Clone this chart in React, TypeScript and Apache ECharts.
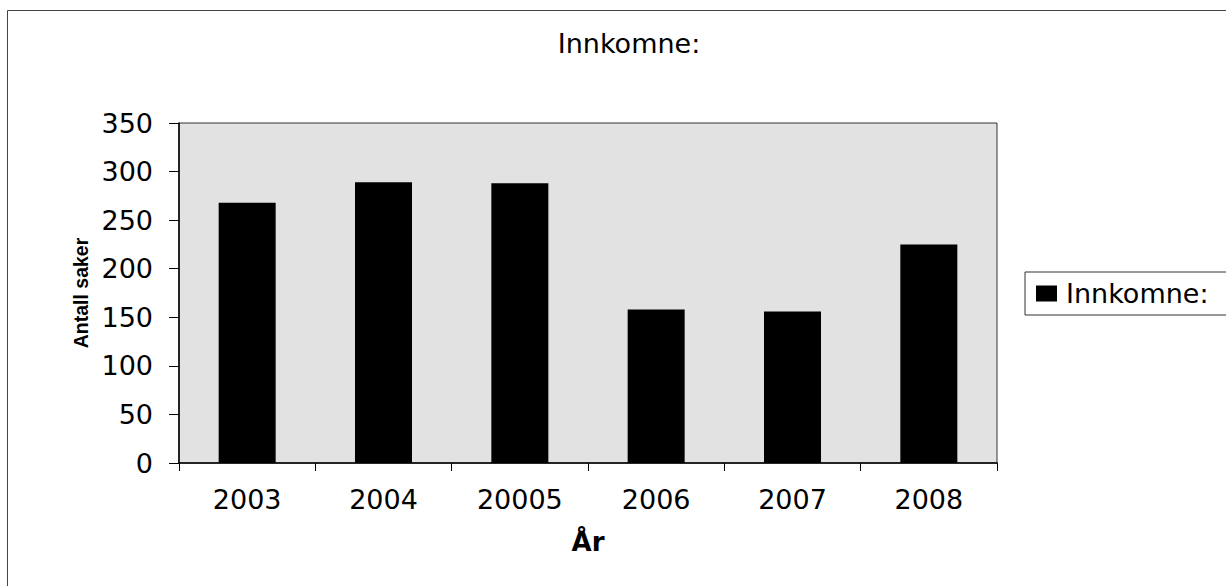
import React, { useEffect, useRef } from "react";
import * as echarts from "echarts";

const titleText = "Innkomne:";
const seriesName = "Innkomne:";
const years = ["2003", "2004", "20005", "2006", "2007", "2008"];
const values = [268, 289, 288, 158, 156, 225];
const yAxisTitle = "Antall saker";
const xAxisTitle = "År";
const yMin = 0;
const yMax = 350;
const yStep = 50;

export default function App() {
  const ref = useRef<HTMLDivElement>(null);
  useEffect(() => {
    if (!ref.current) return;
    const chart = echarts.init(ref.current, null, { renderer: "svg" });
    const font = "DejaVu Sans";
    chart.setOption({
      animation: false,
      backgroundColor: "#ffffff",
      title: {
        text: titleText,
        left: 624,
        textAlign: "center",
        top: 25,
        textStyle: { fontFamily: font, fontSize: 27, fontWeight: "normal", color: "#000" },
      },
      legend: {
        left: 1025,
        top: 272,
        padding: [8, 20, 8, 11],
        borderColor: "#333",
        borderWidth: 1,
        itemWidth: 21,
        itemHeight: 16,
        icon: "rect",
        textStyle: { fontFamily: font, fontSize: 27, color: "#000", padding: [0, 0, 0, 4] },
        data: [seriesName],
      },
      graphic: [
        {
          type: "rect",
          shape: { x: 7.5, y: 10.5, width: 1400, height: 900 },
          style: { fill: "none", stroke: "#444", lineWidth: 1 },
          silent: true,
        },
      ],
      grid: {
        left: 179,
        top: 123,
        width: 818,
        height: 340,
        show: true,
        backgroundColor: "#e2e2e2",
        borderColor: "#333",
        borderWidth: 1,
      },
      xAxis: {
        type: "category",
        data: years,
        name: xAxisTitle,
        nameLocation: "middle",
        nameGap: 66,
        nameTextStyle: { fontFamily: font, fontSize: 26, fontWeight: "bold", color: "#000" },
        axisLine: { lineStyle: { color: "#000", width: 1.5 } },
        axisTick: { show: true, length: 8, alignWithLabel: false, lineStyle: { color: "#000" } },
        axisLabel: { fontFamily: font, fontSize: 27, color: "#000", margin: 23 },
        splitLine: { show: false },
      },
      yAxis: {
        type: "value",
        min: yMin,
        max: yMax,
        interval: yStep,
        name: yAxisTitle,
        nameLocation: "middle",
        nameGap: 40,
        nameRotate: 90,
        nameTextStyle: { fontFamily: "Liberation Sans", fontSize: 19.5, fontWeight: "bold", color: "#000" },
        axisLine: { show: true, lineStyle: { color: "#000", width: 1.5 } },
        axisTick: { show: true, length: 10, lineStyle: { color: "#000" } },
        axisLabel: { fontFamily: font, fontSize: 27, color: "#000", margin: 26 },
        splitLine: { show: false },
      },
      series: [
        {
          name: seriesName,
          type: "bar",
          data: values,
          barWidth: 57,
          itemStyle: { color: "#000" },
        },
      ],
    });
    return () => chart.dispose();
  }, []);
  return (
    <div
      ref={ref}
      style={{ position: "fixed", left: 0, top: 0, width: 1226, height: 586 }}
    />
  );
}
